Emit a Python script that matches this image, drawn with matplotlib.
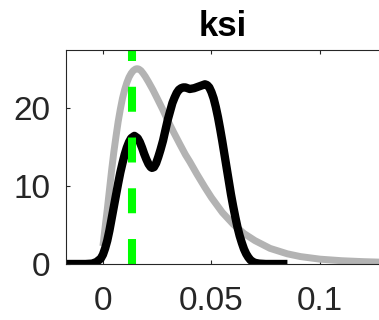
import matplotlib.pyplot as plt

plt.rcParams['font.family'] = ['Liberation Sans', 'DejaVu Sans']

# posterior (black) and prior (gray) densities
post_x = [-0.017, -0.008, -0.005, -0.003, -0.001, 0.000, 0.001, 0.002, 0.003,
          0.004, 0.005, 0.006, 0.007, 0.008, 0.009, 0.010, 0.011, 0.012,
          0.013, 0.0145, 0.016, 0.017, 0.018, 0.019, 0.020, 0.021, 0.022,
          0.0226, 0.0235, 0.0245, 0.0255, 0.0265, 0.0277, 0.029, 0.030,
          0.031, 0.032, 0.033, 0.034, 0.035, 0.036, 0.037, 0.038, 0.040,
          0.042, 0.044, 0.046, 0.047, 0.048, 0.049, 0.050, 0.051, 0.052,
          0.053, 0.054, 0.055, 0.056, 0.057, 0.058, 0.059, 0.060, 0.061,
          0.062, 0.063, 0.064, 0.065, 0.066, 0.067, 0.068, 0.069, 0.070,
          0.072, 0.075, 0.085]
post_y = [0.0, 0.0, 0.05, 0.25, 0.7, 1.2, 2.0, 3.0, 4.3,
          5.8, 7.3, 8.8, 10.3, 11.7, 12.9, 14.0, 14.9, 15.6,
          16.1, 16.4, 16.1, 15.6, 14.9, 14.1, 13.4, 12.8, 12.4,
          12.3, 12.4, 12.9, 13.7, 14.6, 15.8, 17.4, 18.6,
          19.6, 20.6, 21.3, 21.9, 22.3, 22.5, 22.6, 22.6, 22.4,
          22.5, 22.7, 22.9, 23.0, 22.9, 22.6, 22.0, 21.2, 20.1,
          18.8, 17.3, 15.7, 14.0, 12.3, 10.6, 8.9, 7.4, 6.0,
          4.7, 3.6, 2.7, 1.9, 1.3, 0.85, 0.5, 0.3, 0.15,
          0.05, 0.0, 0.0]

prior_x = [0.000, 0.001, 0.002, 0.003, 0.004, 0.005, 0.006, 0.007, 0.008,
           0.009, 0.010, 0.011, 0.012, 0.013, 0.014, 0.015, 0.0157, 0.0165,
           0.0175, 0.0185, 0.0195, 0.021, 0.023, 0.025, 0.0275, 0.030,
           0.0325, 0.0355, 0.038, 0.040, 0.0433, 0.047, 0.050, 0.055,
           0.060, 0.065, 0.070, 0.077, 0.085, 0.091, 0.100, 0.110, 0.120,
           0.130]
prior_y = [2.3, 4.7, 7.0, 9.5, 12.0, 14.3, 16.3, 18.2, 19.8,
           21.2, 22.3, 23.2, 23.9, 24.4, 24.75, 24.95, 25.0, 24.95,
           24.75, 24.4, 24.0, 23.3, 22.3, 21.2, 19.8, 18.3,
           16.9, 15.3, 14.0, 13.1, 11.5, 9.8, 8.5, 6.6,
           5.1, 3.9, 3.0, 2.0, 1.3, 0.95, 0.62, 0.42, 0.3,
           0.22]

mode_x = 0.0134
x_ticks = [0, 0.05, 0.1]
x_labels = ["0", "0.05", "0.1"]
y_ticks = [0, 10, 20]

xlim = (-0.01705, 0.1279)
ylim = (0, 27.4)

fig = plt.figure(figsize=(3.79, 3.2), dpi=100)
ax = fig.add_axes([0.174, 0.175, 0.83, 0.669])

ax.plot(prior_x, prior_y, color="#b3b3b3", linewidth=5.0,
        solid_joinstyle="round", solid_capstyle="butt")
ax.plot(post_x, post_y, color="black", linewidth=6.0,
        solid_joinstyle="round", solid_capstyle="butt")
ax.plot([mode_x, mode_x], [ylim[0], ylim[1]], color="#00ff00", linewidth=5.8,
        linestyle=(0, (3.1, 3.2)))

ax.set_xlim(*xlim)
ax.set_ylim(*ylim)
ax.set_xticks(x_ticks)
ax.set_xticklabels(x_labels)
ax.set_yticks(y_ticks)

for side in ["left", "bottom", "top"]:
    ax.spines[side].set_color("#262626")
    ax.spines[side].set_linewidth(0.8)
ax.spines["right"].set_visible(False)

ax.tick_params(axis="x", direction="in", top=True, bottom=True, length=3,
               width=0.8, color="#262626", labelcolor="#262626",
               labelsize=24, pad=16)
ax.tick_params(axis="y", direction="in", left=True, right=False, length=3,
               width=0.8, color="#262626", labelcolor="#262626",
               labelsize=24, pad=11)

ax.set_title("ksi", fontsize=25, fontweight="bold", pad=10)

fig.savefig("out.png", dpi=100)
